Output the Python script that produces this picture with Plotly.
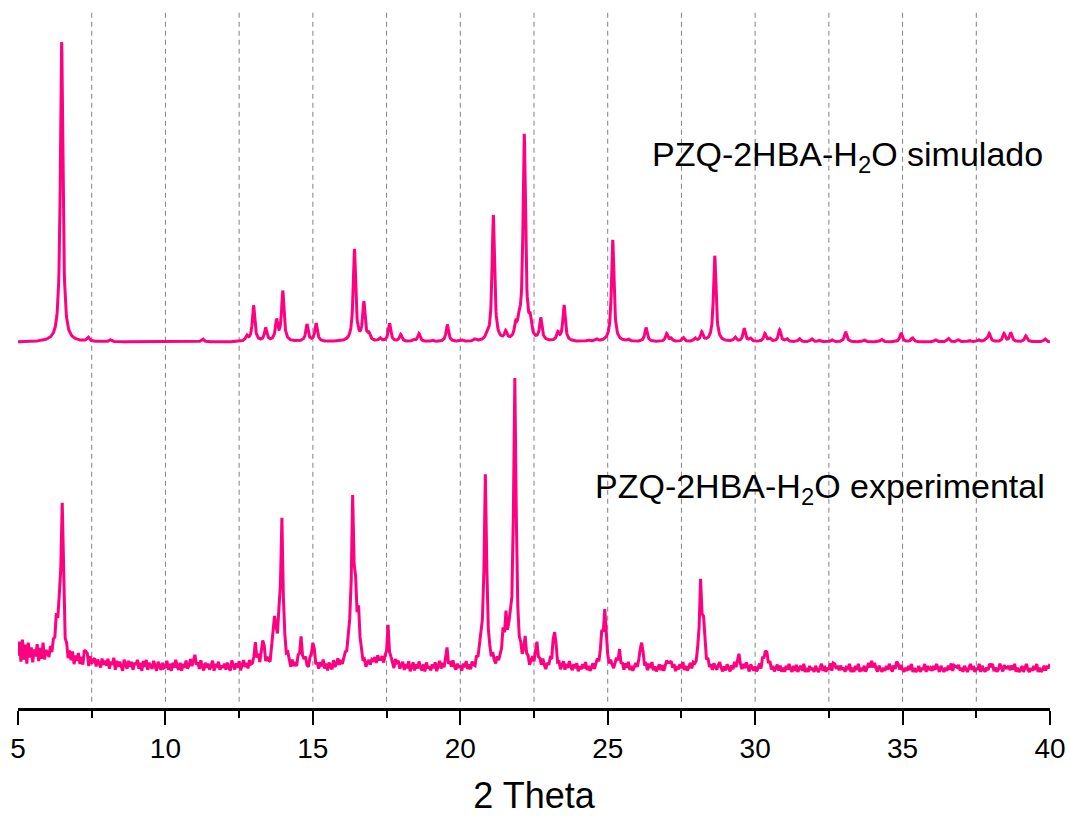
import numpy as np
import plotly.graph_objects as go

# Powder X-ray diffraction patterns of PZQ-2HBA-H2O: simulated vs. experimental.

# Simulated pattern: reflection positions (2θ, degrees) and intensities (a.u.)
sim_pos = [6.48, 7.38, 8.14, 11.26, 12.76, 12.99, 13.40, 13.77, 13.98, 14.80,
           15.11, 16.41, 16.73, 16.90, 17.28, 17.60, 17.98, 18.41, 18.60, 19.05,
           19.56, 20.05, 20.50, 20.90, 21.12, 21.54, 21.88, 22.00, 22.17, 22.37,
           22.73, 23.31, 23.52, 24.34, 24.62, 25.17, 25.70, 26.30, 27.00, 27.15,
           27.56, 27.96, 28.19, 28.63, 29.32, 29.63, 29.84, 30.33, 30.50, 30.83,
           31.07, 31.50, 31.92, 32.18, 32.60, 33.07, 33.70, 34.29, 34.95, 35.33,
           36.12, 36.55, 36.89, 37.26, 37.57, 37.83, 37.94, 38.44, 38.67, 39.18,
           39.83]
sim_int = [300, 4, 2, 3, 5, 36, 13, 20, 50, 17,
           18, 92, 38, 6, 3, 18, 7, 2, 8, 1.5,
           17, 1.5, 2, 4, 126, 8, 14, 14, 205, 16,
           22, 8, 36, 1.5, 2, 102, 2, 14, 8, 3,
           4, 3, 9, 86, 4, 13, 3, 8, 3, 12,
           3, 3, 3, 1.5, 2, 10, 2, 2.5, 9, 4,
           2, 3.5, 2, 1.5, 2, 2.5, 8, 8, 9, 6,
           3]

# Experimental pattern: peak positions (2θ) and heights above background (a.u.)
exp_pos = [6.30, 6.40, 6.50, 7.30, 11.00, 13.05, 13.30, 13.70, 13.85, 13.95,
           14.60, 15.00, 16.20, 16.35, 16.45, 16.55, 17.05, 17.25, 17.55, 17.85,
           19.55, 20.70, 20.85, 21.45, 21.55, 21.70, 21.85, 22.20, 22.60, 23.15,
           23.20, 24.80, 24.90, 25.40, 26.15, 27.05, 28.15, 28.25, 29.45, 30.30,
           30.40, 32.70, 33.95, 34.85, 36.80, 38.00, 38.55, 40.00]
exp_int = [20, 20, 150, 12, 8, 18, 24, 45, 20, 140,
           26, 24, 12, 155, 45, 40, 8, 8, 36, 6,
           15, 15, 190, 20, 38, 25, 285, 18, 24, 10,
           30, 22, 50, 15, 26, 8, 78, 30, 8, 8,
           12, 6, 5, 5, 5, 4, 4, 5]

# Measured background counts, one row per degree starting at 5°, 0.05° steps
exp_background = [
    [16, 30, 10, 32, 12, 27, 8, 29, 14, 24, 9, 22, 15, 27, 10, 23, 12, 28, 11, 20],
    [17, 12, 22, 14, 24, 17, 26, 19, 23, 16, 14, 6, 2, 13, 4, 15, 7, 17, 5, 14],
    [9, 17, 6, 13, 4, 15, 8, 12, 3, 14, 7, 11, 13, 5, 12, 8, 4, 13, 7, 11],
    [6, 13, 3, 10, 7, 14, 2, 11, 5, 10, 6, 1, 12, 7, 3, 11, 5, 10, 2, 9],
    [7, 12, 3, 9, 1, 11, 5, 12, 2, 9, 6, 3, 11, 5, 1, 10, 6, 2, 9, 4],
    [5, 11, 2, 8, 1, 9, 4, 12, 5, 2, 9, 1, 8, 4, 11, 3, 6, 12, 4, 8],
    [9, 3, 8, 2, 11, 5, 1, 9, 4, 8, 2, 6, 11, 1, 8, 4, 10, 2, 6, 4],
    [8, 2, 9, 4, 1, 11, 5, 2, 8, 4, 10, 1, 6, 11, 4, 8, 2, 10, 5, 4],
    [5, 10, 3, 11, 2, 8, 5, 12, 3, 9, 5, 2, 11, 7, 3, 10, 5, 11, 4, 8],
    [1, 7, 3, 10, 4, 0, 8, 2, 6, 1, 10, 4, 8, 2, 6, 11, 3, 1, 8, 5],
    [4, 10, 2, 6, 1, 8, 4, 11, 2, 7, 0, 8, 4, 1, 10, 3, 6, 11, 4, 8],
    [3, 7, 10, 4, 8, 12, 5, 9, 3, 11, 1, 8, 4, 10, 2, 6, 0, 5, 8, 3],
    [6, 1, 8, 4, 10, 2, 6, 11, 4, 8, 2, 10, 1, 7, 4, 0, 8, 2, 7, 1],
    [5, 9, 1, 7, 3, 10, 0, 5, 9, 1, 7, 3, 10, 4, 1, 7, 0, 9, 3, 5],
    [1, 7, 3, 9, 0, 5, 10, 2, 7, 1, 5, 9, 0, 7, 3, 10, 4, 1, 7, 3],
    [5, 0, 7, 3, 9, 1, 5, 0, 7, 3, 1, 9, 4, 10, 2, 6, 1, 5, 8, 3],
    [6, 2, 10, 4, 1, 8, 3, 7, 4, 10, 2, 8, 4, 11, 6, 2, 8, 4, 10, 6],
    [4, 10, 2, 6, 11, 4, 8, 1, 6, 10, 3, 8, 4, 1, 7, 3, 10, 4, 0, 6],
    [3, 8, 1, 7, 4, 10, 2, 6, 0, 5, 9, 1, 7, 3, 10, 4, 1, 7, 3, 8],
    [0, 5, 2, 7, 3, 9, 1, 5, 0, 3, 7, 1, 5, 9, 3, 6, 10, 4, 8, 6],
    [6, 2, 8, 4, 1, 6, 10, 3, 7, 1, 5, 0, 7, 3, 9, 1, 5, 0, 3, 7],
    [2, 6, 9, 3, 7, 1, 5, 0, 7, 3, 9, 1, 5, 0, 3, 7, 1, 6, 0, 4],
    [7, 1, 5, 9, 3, 7, 0, 5, 2, 7, 3, 9, 1, 5, 0, 3, 7, 1, 6, 3],
    [2, 7, 3, 9, 4, 10, 6, 2, 8, 1, 5, 0, 7, 3, 1, 6, 9, 3, 0, 5],
    [1, 7, 3, 0, 6, 2, 9, 3, 7, 10, 4, 1, 7, 3, 9, 5, 0, 7, 3, 1],
    [5, 0, 3, 7, 1, 9, 4, 11, 6, 2, 8, 1, 5, 0, 3, 7, 1, 6, 0, 4],
    [0, 6, 2, 8, 3, 0, 6, 1, 7, 0, 4, 6, 1, 8, 0, 4, 0, 6, 2, 4],
    [0, 6, 2, 0, 4, 8, 1, 6, 0, 4, 2, 8, 0, 6, 2, 0, 5, 1, 6, 2],
    [4, 0, 6, 2, 8, 0, 4, 0, 6, 2, 8, 0, 4, 1, 6, 0, 4, 8, 2, 6],
    [2, 8, 3, 0, 6, 2, 0, 4, 1, 6, 2, 8, 3, 0, 6, 2, 8, 3, 0, 6],
    [2, 0, 4, 1, 6, 2, 8, 0, 4, 0, 2, 6, 0, 4, 2, 8, 0, 6, 2, 4],
    [1, 6, 2, 8, 4, 0, 6, 2, 0, 4, 1, 6, 2, 8, 0, 4, 0, 2, 6, 1],
    [4, 0, 6, 2, 0, 4, 8, 2, 6, 0, 4, 2, 8, 0, 6, 2, 0, 4, 1, 6],
    [2, 6, 0, 4, 0, 2, 8, 4, 0, 6, 2, 0, 4, 1, 6, 2, 8, 0, 4, 0],
    [2, 6, 0, 4, 8, 2, 0, 4, 1, 6, 2, 8, 0, 4, 0, 2, 6, 1, 4, 2],
    [3],
]

x_ticks = [5, 10, 15, 20, 25, 30, 35, 40]
x_minor = [7.5, 12.5, 17.5, 22.5, 27.5, 32.5, 37.5]
label_sim = "PZQ-2HBA-H<sub>2</sub>O simulado"
label_exp = "PZQ-2HBA-H<sub>2</sub>O experimental"

FWHM = 0.1          # peak width, degrees
SIM_OFFSET = 366    # vertical stacking offsets (a.u.)
EXP_OFFSET = 36
COLOR = "#FF0080"
FONT = "Liberation Sans, Arial, sans-serif"


def lorentz_sum(x, centers, heights, w=FWHM):
    x = np.asarray(x, dtype=float)[:, None]
    c = np.asarray(centers, dtype=float)[None, :]
    h = np.asarray(heights, dtype=float)[None, :]
    return (h / (1.0 + (2.0 * (x - c) / w) ** 2)).sum(axis=1)


# simulated profile on a fine grid
x_sim = np.linspace(5, 40, 3501)
y_sim = SIM_OFFSET + lorentz_sum(x_sim, sim_pos, sim_int)

# experimental: background rows + diffraction peaks
x_exp, bg = [], []
for i, row in enumerate(exp_background):
    for j, v in enumerate(row):
        x_exp.append(5 + i + 0.05 * j)
        bg.append(v)
x_exp = np.array(x_exp)
y_exp = EXP_OFFSET + np.array(bg, dtype=float) + lorentz_sum(x_exp, exp_pos, exp_int)

fig = go.Figure()
fig.add_trace(go.Scatter(x=x_sim, y=y_sim, mode="lines",
                         line=dict(color=COLOR, width=3), name="simulado"))
fig.add_trace(go.Scatter(x=x_exp, y=y_exp, mode="lines",
                         line=dict(color=COLOR, width=3), name="experimental"))

# dashed vertical guides
for gx in x_minor + x_ticks[1:-1]:
    fig.add_shape(type="line", xref="x", yref="paper", x0=gx, x1=gx, y0=0.009, y1=1,
                  line=dict(color="#808080", width=1, dash="5px,4px"), layer="below")

fig.add_annotation(text=label_sim, xref="paper", yref="paper", x=0.995, y=0.792,
                   xanchor="right", yanchor="middle", showarrow=False,
                   font=dict(family=FONT, size=34, color="black"))
fig.add_annotation(text=label_exp, xref="paper", yref="paper", x=0.997, y=0.315,
                   xanchor="right", yanchor="middle", showarrow=False,
                   font=dict(family=FONT, size=34, color="black"))

fig.update_xaxes(range=[5, 40], tickvals=x_ticks, ticktext=[str(t) for t in x_ticks],
                 ticks="outside", ticklen=14, tickwidth=2, tickcolor="black",
                 showline=True, linewidth=2.5, linecolor="black", showgrid=False,
                 zeroline=False, automargin=False,
                 tickfont=dict(family=FONT, size=28, color="black"),
                 minor=dict(tickvals=x_minor, ticks="outside", ticklen=7,
                            tickwidth=2, tickcolor="black", showgrid=False),
                 title=dict(text="2 Theta", font=dict(family=FONT, size=36, color="black"),
                            standoff=25))
fig.update_yaxes(visible=False, range=[0, 696])

fig.update_layout(width=1070, height=816, margin=dict(l=18, r=20, t=12, b=108, autoexpand=False),
                  plot_bgcolor="white", paper_bgcolor="white", showlegend=False)

fig.write_html("out.html")
